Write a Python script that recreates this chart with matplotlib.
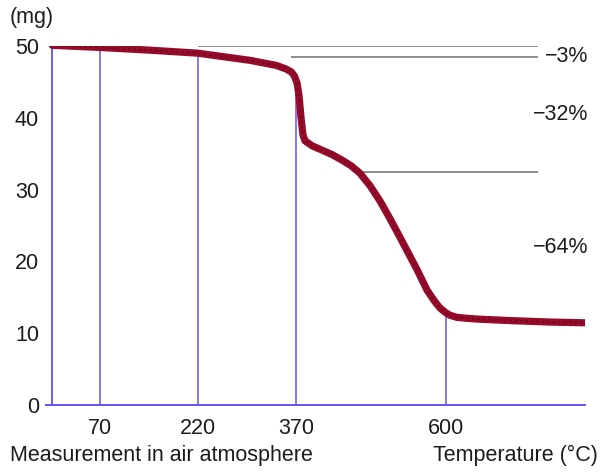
import numpy as np
import matplotlib
matplotlib.use("Agg")
import matplotlib.pyplot as plt

plt.rcParams['font.family'] = ['Liberation Sans', 'DejaVu Sans']

# TGA curve
tempC = [-3, 70, 150, 220, 300, 340, 355, 363, 368, 372, 375, 378, 381, 384, 395, 410, 425,
         441, 455, 468, 484, 499, 514, 534, 556, 571, 583, 591, 599, 606, 617, 635, 652,
         700, 760, 813]
massMg = [50.1, 49.8, 49.4, 49.0, 48.0, 47.3, 46.8, 46.4, 45.8, 44.8, 43.0, 40.0, 37.6, 36.8,
          36.1, 35.5, 34.9, 34.1, 33.3, 32.3, 30.5, 28.4, 26.0, 22.6, 18.8, 16.0, 14.4,
          13.5, 12.9, 12.5, 12.2, 12.05, 11.95, 11.75, 11.55, 11.45]

markTemps = [70, 220, 370, 600]
yTicks = [0, 10, 20, 30, 40, 50]

# step lines: level (mg), start temperature, end temperature
stepLevels = [50.0, 48.5, 32.5]
stepStarts = [220, 362, 472]
stepEnd = 741
stepLabels = ["\u22123%", "\u221232%", "\u221264%"]
labelLevels = [48.5, 40.4, 22.0]

curveCol = "#960a2a"
vCol = "#6652ea"
hCol = "#84848e"
txtCol = "#1c1c1c"

fig = plt.figure(figsize=(6.01, 4.76), dpi=100)
ax = fig.add_axes([46/601, 71/476, (585-46)/601, (405-46)/476])
ax.set_xlim(-12.7, 813)
ax.set_ylim(0, 50)

for s in ["top", "right", "left"]:
    ax.spines[s].set_visible(False)
ax.spines["bottom"].set_color(vCol)
ax.spines["bottom"].set_linewidth(1.4)

# y axis line
ax.vlines(tempC[0], 0, 50, color=vCol, lw=1.3, zorder=2)

# vertical markers up to the curve
for t in markTemps:
    top = np.interp(t, tempC, massMg)
    ax.vlines(t, 0, top, color=vCol, lw=1.1, zorder=2)

for lev, st in zip(stepLevels, stepStarts):
    ax.hlines(lev, st, stepEnd, color=hCol, lw=1.3, zorder=2)

ax.plot(tempC, massMg, color=curveCol, lw=5.2, solid_capstyle="round",
        solid_joinstyle="round", zorder=4)
ax.plot(tempC, massMg, color="#300008", lw=1.3, ls=(0, (1, 2)), alpha=0.45, zorder=5)

ax.set_xticks(markTemps)
ax.set_xticklabels([str(t) for t in markTemps])
ax.set_yticks(yTicks)
ax.set_yticklabels([str(v) for v in yTicks])
ax.tick_params(axis="x", length=0, pad=9, labelsize=15.5, labelcolor=txtCol)
ax.tick_params(axis="y", length=0, pad=5, labelsize=15.5, labelcolor=txtCol)

for lab, lev in zip(stepLabels, labelLevels):
    ax.text(818, lev, lab, ha="right", va="center", fontsize=15.5, color=txtCol, clip_on=False)

fig.text(10/601, 1 - 18/476, "(mg)", ha="left", va="center", fontsize=15.5, color=txtCol)
fig.text(10/601, 1 - 455/476, "Measurement in air atmosphere", ha="left", va="center",
         fontsize=15.5, color=txtCol)
fig.text(598/601, 1 - 455/476, "Temperature (\u00b0C)", ha="right", va="center",
         fontsize=15.5, color=txtCol)

fig.savefig("out.png", dpi=100)
